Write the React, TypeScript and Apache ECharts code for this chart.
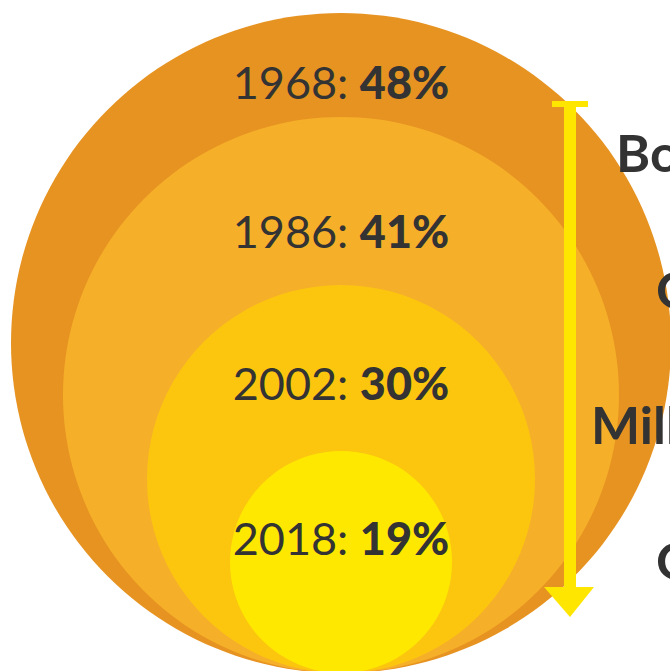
import React, { useEffect, useRef } from "react";
import * as echarts from "echarts";

// ---- data ----
const years = ["1968", "1986", "2002", "2018"];
const shares = [48, 41, 30, 19];
const generations = ["Boomers", "Gen X", "Millennials", "Gen Z"];

// ---- layout / style (not data) ----
const W = 670;
const H = 671;
const CENTER_X = 341;
const BOTTOM_Y = 673;
const RADII = [330, 278, 194, 111];
const LABEL_Y = [82, 231, 383, 538];
const GEN_POS = [
  [616, 152],
  [656, 289],
  [591, 424],
  [656, 560],
];
const COLORS = ["#E69322", "#F6AF29", "#FCC60F", "#FFE800"];
const ARROW_COLOR = "#FFE600";
const TEXT_COLOR = "#333333";

export default function App() {
  const ref = useRef<HTMLDivElement>(null);

  useEffect(() => {
    if (!ref.current) return;
    const chart = echarts.init(ref.current, null, { renderer: "svg" });

    const circleData = years.map((y, i) => [i, shares[i]]);

    const option: any = {
      animation: false,
      grid: { left: 0, top: 0, width: W, height: H, show: false },
      xAxis: { type: "value", min: 0, max: W, show: false },
      yAxis: { type: "value", min: 0, max: H, inverse: true, show: false },
      series: [
        {
          type: "custom",
          coordinateSystem: "cartesian2d",
          data: circleData,
          z: 1,
          renderItem: (params: any, api: any) => {
            const i = api.value(0);
            const r = RADII[i];
            const c = api.coord([CENTER_X, BOTTOM_Y - r]);
            const t = api.coord([CENTER_X, LABEL_Y[i]]);
            return {
              type: "group",
              children: [
                {
                  type: "circle",
                  shape: { cx: c[0], cy: c[1], r },
                  style: { fill: COLORS[i] },
                },
                {
                  type: "text",
                  x: t[0],
                  y: t[1],
                  style: {
                    text: `{y|${years[i]}: }{p|${api.value(1)}%}`,
                    align: "center",
                    verticalAlign: "middle",
                    rich: {
                      y: {
                        fontFamily: "Lato",
                        fontSize: 45,
                        fontWeight: 400,
                        fill: TEXT_COLOR,
                      },
                      p: {
                        fontFamily: "Lato",
                        fontSize: 45,
                        fontWeight: 900,
                        fill: TEXT_COLOR,
                      },
                    },
                  },
                },
              ],
            };
          },
        },
        {
          type: "custom",
          coordinateSystem: "cartesian2d",
          data: generations.map((g, i) => [i]),
          z: 5,
          renderItem: (params: any, api: any) => {
            const i = api.value(0);
            const p = api.coord(GEN_POS[i]);
            return {
              type: "text",
              x: p[0],
              y: p[1],
              style: {
                text: generations[i],
                fontFamily: "Lato",
                fontSize: 52,
                fontWeight: "bold",
                fill: TEXT_COLOR,
                align: "left",
                verticalAlign: "middle",
              },
            };
          },
        },
      ],
      graphic: [
        {
          type: "group",
          z: 100,
          children: [
            {
              type: "rect",
              z: 100,
              shape: { x: 552, y: 101, width: 36, height: 6 },
              style: { fill: ARROW_COLOR },
            },
            {
              type: "rect",
              z: 100,
              shape: { x: 564, y: 101, width: 12, height: 488 },
              style: { fill: ARROW_COLOR },
            },
            {
              type: "polygon",
              z: 100,
              shape: {
                points: [
                  [544, 587],
                  [594, 587],
                  [570, 617],
                ],
              },
              style: { fill: ARROW_COLOR },
            },
          ],
        },
      ],
    };

    chart.setOption(option);
    return () => chart.dispose();
  }, []);

  return (
    <div
      ref={ref}
      style={{ position: "fixed", left: 0, top: 0, width: W, height: H, background: "#ffffff" }}
    />
  );
}
